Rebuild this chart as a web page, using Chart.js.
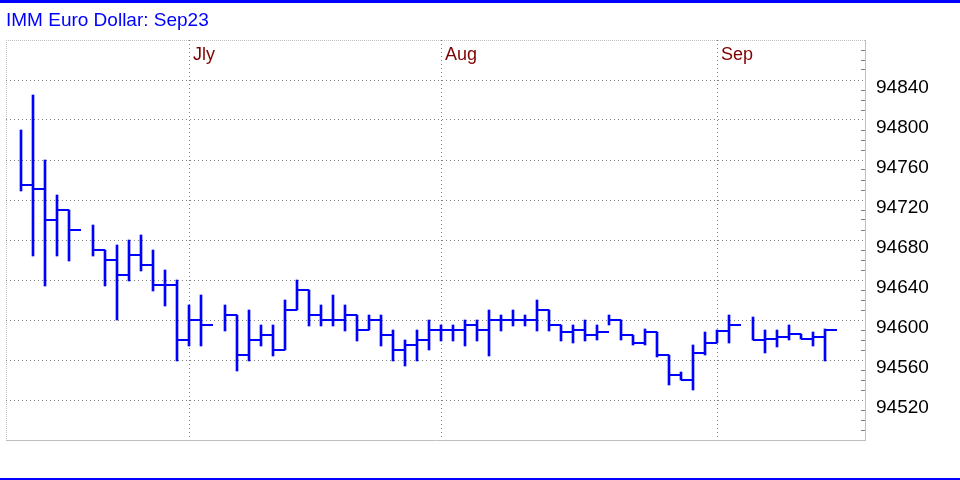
<!DOCTYPE html>
<html lang="en">
<head>
    <meta charset="UTF-8">
    <title>IMM Euro Dollar: Sep23</title>
    <script src="https://cdn.jsdelivr.net/npm/chart.js"></script>
    <style>
        body {
            margin: 0;
            background: #fff;
        }
        .wrap {
            position: relative;
            width: 960px;
            height: 480px;
        }
        .rule {
            position: absolute;
            left: 0;
            width: 960px;
            background: #0000ff;
        }
        .rule.top { top: 0; height: 3px; }
        .rule.bottom { bottom: 0; height: 2px; }
    </style>
</head>
<body>
    <div class="wrap">
        <div class="rule top"></div>
        <canvas id="priceChart" width="960" height="480"></canvas>
        <div class="rule bottom"></div>
    </div>
    <script>
        // one slot per weekday, holidays have no bar
        const dates = [
            '2023-06-12', '2023-06-13', '2023-06-14', '2023-06-15', '2023-06-16',
            '2023-06-19', '2023-06-20', '2023-06-21', '2023-06-22', '2023-06-23',
            '2023-06-26', '2023-06-27', '2023-06-28', '2023-06-29', '2023-06-30',
            '2023-07-03', '2023-07-04', '2023-07-05', '2023-07-06', '2023-07-07',
            '2023-07-10', '2023-07-11', '2023-07-12', '2023-07-13', '2023-07-14',
            '2023-07-17', '2023-07-18', '2023-07-19', '2023-07-20', '2023-07-21',
            '2023-07-24', '2023-07-25', '2023-07-26', '2023-07-27', '2023-07-28',
            '2023-07-31', '2023-08-01', '2023-08-02', '2023-08-03', '2023-08-04',
            '2023-08-07', '2023-08-08', '2023-08-09', '2023-08-10', '2023-08-11',
            '2023-08-14', '2023-08-15', '2023-08-16', '2023-08-17', '2023-08-18',
            '2023-08-21', '2023-08-22', '2023-08-23', '2023-08-24', '2023-08-25',
            '2023-08-28', '2023-08-29', '2023-08-30', '2023-08-31', '2023-09-01',
            '2023-09-04', '2023-09-05', '2023-09-06', '2023-09-07', '2023-09-08',
            '2023-09-11', '2023-09-12', '2023-09-13'
        ];
        const highs = [
            94790, 94825, 94760, 94725, 94710, null, 94695, 94670, 94675, 94680,
            94685, 94670, 94650, 94640, 94615, 94625, null, 94615, 94605, 94610,
            94595, 94595, 94620, 94640, 94630, 94615, 94625, 94615, 94605, 94605,
            94605, 94590, 94580, 94590, 94600, 94595, 94595, 94600, 94600, 94610,
            94605, 94610, 94605, 94620, 94610, 94595, 94595, 94600, 94595, 94605,
            94600, 94585, 94591, 94588, 94565, 94548, 94575, 94588, 94590, 94605,
            null, 94603, 94590, 94590, 94595, 94586, 94588, 94591
        ];
        const lows = [
            94729, 94664, 94634, 94664, 94659, null, 94664, 94634, 94600, 94639,
            94649, 94629, 94614, 94559, 94574, 94574, null, 94589, 94549, 94559,
            94574, 94564, 94570, 94610, 94594, 94594, 94594, 94589, 94579, 94590,
            94574, 94559, 94554, 94559, 94570, 94579, 94579, 94574, 94579, 94564,
            94589, 94594, 94594, 94589, 94589, 94579, 94577, 94579, 94580, 94595,
            94580, 94575, 94575, 94563, 94535, 94540, 94530, 94565, 94577, 94577,
            null, 94580, 94567, 94573, 94580, 94581, 94574, 94559
        ];
        const closes = [
            94735, 94731, 94700, 94710, 94690, null, 94670, 94660, 94645, 94665,
            94655, 94635, 94635, 94580, 94600, 94595, null, 94605, 94565, 94580,
            94585, 94570, 94610, 94630, 94605, 94600, 94600, 94605, 94590, 94600,
            94585, 94570, 94575, 94580, 94590, 94590, 94590, 94595, 94590, 94600,
            94600, 94600, 94600, 94610, 94595, 94588, 94590, 94585, 94588, 94600,
            94585, 94577, 94588, 94565, 94545, 94540, 94567, 94577, 94589, 94595,
            null, 94580, 94581, 94583, 94586, 94581, 94583, 94590
        ];
        const monthKeys = ['2023-07', '2023-08', '2023-09'];
        const monthNames = ['Jly', 'Aug', 'Sep'];
        const yMin = 94480;
        const yMax = 94880;
        const yLabelStep = 40;
        const yMinorStep = 10;

        const fontFamily = 'Arial, "Liberation Sans", sans-serif';
        const xMin = -1.25;
        const xMax = xMin + 859 / 12;

        // month line sits on the last slot of the previous month
        const monthSlots = monthKeys.map(k => dates.findIndex(d => d.startsWith(k)) - 1);

        const rangeData = [];
        const closeData = [];
        dates.forEach((d, i) => {
            if (highs[i] == null) return;
            rangeData.push({ x: i, y: [lows[i], highs[i]] });
            closeData.push({ x: i, y: closes[i] });
            closeData.push({ x: i + 1, y: closes[i] });
            closeData.push({ x: i + 1, y: null });
        });

        const isMajor = v => v % yLabelStep === 0 && v !== yMin && v !== yMax;

        new Chart(document.getElementById('priceChart'), {
            type: 'bar',
            data: {
                datasets: [
                    {
                        type: 'bar',
                        data: rangeData,
                        backgroundColor: '#0000ff',
                        borderWidth: 0,
                        barThickness: 2
                    },
                    {
                        type: 'line',
                        data: closeData,
                        borderColor: '#0000ff',
                        borderWidth: 2,
                        borderCapStyle: 'butt',
                        pointRadius: 0,
                        spanGaps: false,
                        tension: 0
                    }
                ]
            },
            options: {
                responsive: false,
                animation: false,
                layout: { padding: { left: 6, right: 0, top: 0, bottom: 40 } },
                plugins: {
                    legend: { display: false },
                    tooltip: { enabled: false },
                    title: {
                        display: true,
                        text: 'IMM Euro Dollar: Sep23',
                        align: 'start',
                        color: '#0000ff',
                        font: { family: fontFamily, size: 19, weight: 'normal' },
                        padding: { top: 9, bottom: 8.2 }
                    }
                },
                scales: {
                    x: {
                        type: 'linear',
                        // month names sit inside the plot, under its top edge
                        position: { y: yMax },
                        min: xMin,
                        max: xMax,
                        offset: false,
                        afterBuildTicks: scale => {
                            scale.ticks = [{ value: xMin }].concat(monthSlots.map(v => ({ value: v })));
                        },
                        grid: {
                            offset: false,
                            drawTicks: false,
                            color: ctx => ctx.tick && ctx.tick.value === xMin ? '#c0c0c0' : '#808080'
                        },
                        border: {
                            display: false,
                            dash: ctx => ctx.tick && ctx.tick.value === xMin ? [1, 1] : [1, 3]
                        },
                        ticks: {
                            autoSkip: false,
                            maxRotation: 0,
                            align: 'start',
                            padding: 4,
                            labelOffset: 4,
                            color: '#800000',
                            font: { family: fontFamily, size: 18 },
                            callback: value => {
                                const k = monthSlots.indexOf(value);
                                return k < 0 ? '' : monthNames[k];
                            }
                        }
                    },
                    y: {
                        position: 'right',
                        min: yMin,
                        max: yMax,
                        afterFit: scale => { scale.width = 95; },
                        grid: {
                            lineWidth: 1,
                            tickLength: -4,
                            color: ctx => {
                                const v = ctx.tick ? ctx.tick.value : null;
                                if (v === yMin || v === yMax) return '#c0c0c0';
                                return isMajor(v) ? '#808080' : 'rgba(0,0,0,0)';
                            },
                            tickColor: ctx => {
                                const v = ctx.tick ? ctx.tick.value : null;
                                return (v % yLabelStep === 0) ? 'rgba(0,0,0,0)' : '#808080';
                            }
                        },
                        border: {
                            display: true,
                            color: '#c0c0c0',
                            width: 1,
                            dash: ctx => {
                                const v = ctx.tick ? ctx.tick.value : null;
                                if (v === yMin) return [];
                                if (v === yMax) return [1, 1];
                                return [1, 3];
                            }
                        },
                        ticks: {
                            stepSize: yMinorStep,
                            autoSkip: false,
                            padding: 15,
                            labelOffset: 8,
                            color: '#000000',
                            font: { family: fontFamily, size: 19 },
                            callback: value => isMajor(value) ? String(value) : ''
                        }
                    }
                }
            }
        });
    </script>
</body>
</html>
